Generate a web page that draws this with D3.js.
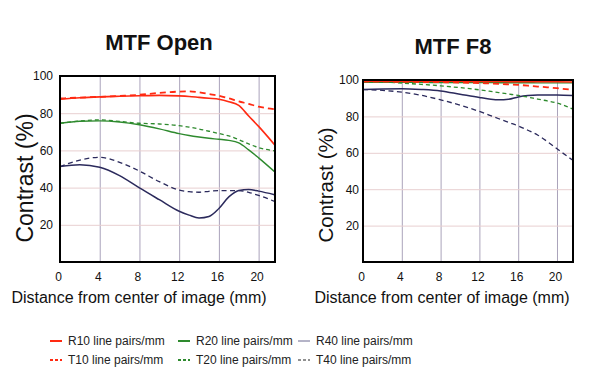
<!DOCTYPE html>
<html lang="en">
<head>
<meta charset="UTF-8">
<title>MTF charts</title>
<script src="https://d3js.org/d3.v7.min.js"></script>
<style>
  body { margin: 0; background: #fff; }
  text { font-family: "Liberation Sans", Arial, sans-serif; fill: #111; }
  .title { font-size: 22px; font-weight: bold; }
  .tick text { font-size: 12px; }
  .ylab { font-size: 23px; }
  .xlab { font-size: 16px; }
  .legend text { font-size: 12px; fill: #222; }
</style>
</head>
<body>
<svg width="600" height="375"></svg>
<script>
// distance from image centre (mm)
const xs = [0, 2, 4, 6, 8, 10, 12, 13, 14, 15, 16, 17, 18, 19, 20, 21.6];

// MTF Open
const openR10 = [87.5, 88.3, 88.8, 89.1, 89.4, 89.6, 89.3, 89.0, 88.5, 88.0, 87.5, 86.2, 84.2, 78.5, 72.9, 63.1];
const openT10 = [87.9, 88.4, 88.8, 89.3, 89.9, 90.9, 91.6, 91.7, 91.2, 90.3, 89.4, 88.0, 86.4, 85.0, 83.5, 82.2];
const openR20 = [74.6, 75.7, 75.9, 75.3, 73.8, 71.6, 69.0, 68.0, 67.2, 66.5, 66.0, 65.4, 64.0, 60.3, 56.0, 48.6];
const openT20 = [74.6, 75.8, 76.4, 75.6, 74.6, 74.2, 73.3, 72.5, 71.5, 70.3, 69.1, 67.8, 65.8, 63.5, 61.5, 59.8];
const openR40 = [51.3, 52.3, 50.9, 46.4, 39.8, 33.5, 27.3, 25.2, 23.7, 24.5, 28.8, 35.0, 38.5, 39.0, 38.1, 36.2];
const openT40 = [51.3, 54.8, 56.3, 53.6, 48.9, 43.2, 38.7, 37.8, 37.5, 38.0, 38.4, 38.4, 38.4, 37.4, 35.8, 32.6];

// MTF F8
const f8R10 = [99.3, 99.3, 99.3, 99.3, 99.3, 99.3, 99.2, 99.2, 99.2, 99.1, 99.1, 99.1, 99.0, 99.0, 99.0, 98.9];
const f8T10 = [99.1, 99.1, 99.0, 98.9, 98.8, 98.6, 98.3, 98.1, 97.9, 97.6, 97.3, 96.9, 96.4, 96.0, 95.5, 94.6];
const f8R20 = [98.7, 98.7, 98.7, 98.7, 98.6, 98.6, 98.6, 98.6, 98.5, 98.5, 98.5, 98.5, 98.4, 98.4, 98.4, 98.4];
const f8T20 = [99.4, 98.9, 98.3, 97.6, 96.8, 95.8, 94.6, 93.9, 93.1, 92.3, 91.5, 90.6, 89.5, 88.5, 87.3, 84.1];
const f8R40 = [94.8, 95.1, 95.2, 94.8, 94.0, 92.2, 90.4, 89.6, 89.1, 89.4, 90.7, 91.5, 91.8, 91.8, 91.8, 91.5];
const f8T40 = [94.8, 94.3, 93.3, 91.6, 89.1, 86.2, 82.7, 80.7, 78.7, 76.7, 74.8, 72.4, 69.8, 66.2, 62.2, 56.0];

const xTicks = [0, 4, 8, 12, 16, 20];
const yTicks = [20, 40, 60, 80, 100];
const seriesKeys = ["R10", "T10", "R20", "T20", "R40", "T40"];
const legendLabels = ["R10 line pairs/mm", "T10 line pairs/mm", "R20 line pairs/mm",
                      "T20 line pairs/mm", "R40 line pairs/mm", "T40 line pairs/mm"];

// line styles per series
const style = {
  R10: {color: "#ff2a12", width: 1.6, dash: null},
  T10: {color: "#ff2a12", width: 1.8, dash: "6,4"},
  R20: {color: "#2e8a2e", width: 1.4, dash: null},
  T20: {color: "#2e8a2e", width: 1.3, dash: "4,3"},
  R40: {color: "#2b2a5c", width: 1.5, dash: null},
  T40: {color: "#2b2a5c", width: 1.3, dash: "5,3.5"}
};

const svg = d3.select("svg");

function panel(cfg) {
  const x = d3.scaleLinear().domain([0, 21.65]).range([cfg.left, cfg.right]);
  const y = d3.scaleLinear().domain([0, 100]).range([cfg.bottom, cfg.top]);
  const g = svg.append("g");

  // grid
  g.append("g")
    .attr("transform", `translate(0,${cfg.bottom})`)
    .call(d3.axisBottom(x).tickValues([4, 8, 12, 16, 20]).tickSize(-(cfg.bottom - cfg.top)).tickFormat(""))
    .call(a => a.select(".domain").remove())
    .call(a => a.selectAll("line").attr("stroke", "#aaa3bb").attr("stroke-width", 1));
  g.append("g")
    .attr("transform", `translate(${cfg.left},0)`)
    .call(d3.axisLeft(y).tickValues([20, 40, 60, 80]).tickSize(-(cfg.right - cfg.left)).tickFormat(""))
    .call(a => a.select(".domain").remove())
    .call(a => a.selectAll("line").attr("stroke", "#e8cfd0").attr("stroke-width", 1));

  // lines
  const clipId = "clip" + cfg.id;
  svg.append("clipPath").attr("id", clipId).append("rect")
    .attr("x", cfg.left).attr("y", cfg.top).attr("width", cfg.right - cfg.left).attr("height", cfg.bottom - cfg.top);
  const line = d3.line().x((d, i) => x(xs[i])).y(d => y(d)).curve(d3.curveMonotoneX);
  const order = ["T40", "R40", "T20", "R20", "T10", "R10"];
  g.append("g").attr("clip-path", `url(#${clipId})`)
    .selectAll("path").data(order).join("path")
    .attr("d", k => line(cfg.data[k]))
    .attr("fill", "none")
    .attr("stroke", k => style[k].color)
    .attr("stroke-width", k => style[k].width)
    .attr("stroke-dasharray", k => style[k].dash);

  // frame
  g.append("rect")
    .attr("x", cfg.left).attr("y", cfg.top)
    .attr("width", cfg.right - cfg.left).attr("height", cfg.bottom - cfg.top)
    .attr("fill", "none").attr("stroke", "#000").attr("stroke-width", 2);

  // tick labels
  g.append("g")
    .attr("transform", `translate(-2,${cfg.bottom})`)
    .call(d3.axisBottom(x).tickValues(xTicks).tickSize(0).tickPadding(10).tickFormat(d3.format("d")))
    .call(a => a.select(".domain").remove())
    .call(a => a.selectAll("text").style("font-family", "Liberation Sans, Arial, sans-serif").style("font-size", "12px"));
  g.append("g")
    .attr("transform", `translate(${cfg.left},0)`)
    .call(d3.axisLeft(y).tickValues(yTicks).tickSize(0).tickPadding(cfg.ypad).tickFormat(d3.format("d")))
    .call(a => a.select(".domain").remove())
    .call(a => a.selectAll("text").style("font-family", "Liberation Sans, Arial, sans-serif").style("font-size", "12px"));

  // titles
  g.append("text").attr("class", "title")
    .attr("x", cfg.titleX).attr("y", cfg.titleY).attr("text-anchor", "middle").text(cfg.title);
  g.append("text").attr("class", "ylab")
    .attr("transform", `translate(${cfg.ylabX},${cfg.ylabY}) rotate(-90)`)
    .attr("text-anchor", "middle").attr("dy", "0.35em")
    .style("font-size", cfg.ylabSize + "px")
    .text("Contrast (%)");
  g.append("text").attr("class", "xlab")
    .attr("x", cfg.xlabX).attr("y", 303).attr("text-anchor", "middle")
    .text("Distance from center of image (mm)");
}

const openData = {R10: openR10, T10: openT10, R20: openR20, T20: openT20, R40: openR40, T40: openT40};
const f8Data = {R10: f8R10, T10: f8T10, R20: f8R20, T20: f8T20, R40: f8R40, T40: f8T40};

panel({id: "a", left: 60, right: 275, top: 76, bottom: 262, ypad: 7, data: openData,
       title: "MTF Open", titleX: 159, titleY: 50, ylabX: 25, ylabY: 178, ylabSize: 23, xlabX: 139});
panel({id: "b", left: 363, right: 573, top: 80, bottom: 262, ypad: 4, data: f8Data,
       title: "MTF F8", titleX: 453, titleY: 54, ylabX: 326, ylabY: 185, ylabSize: 20.5, xlabX: 442});

// legend: three columns, two rows
const legX = [50, 178, 298];
const legY = [341, 360];
const leg = svg.append("g").attr("class", "legend");
seriesKeys.forEach((k, i) => {
  const cx = legX[Math.floor(i / 2)], cy = legY[i % 2];
  const isDash = style[k].dash !== null;
  leg.append("line")
    .attr("x1", cx).attr("x2", cx + 12).attr("y1", cy).attr("y2", cy)
    .attr("stroke", k === "T40" ? "#222" : (k === "R40" ? "#6a6890" : style[k].color))
    .attr("stroke-width", k.endsWith("40") ? 1 : 2)
    .attr("stroke-dasharray", isDash ? "3,2" : null);
  leg.append("text").attr("x", cx + 18).attr("y", cy).attr("dy", "0.35em").text(legendLabels[i]);
});
</script>
</body>
</html>
